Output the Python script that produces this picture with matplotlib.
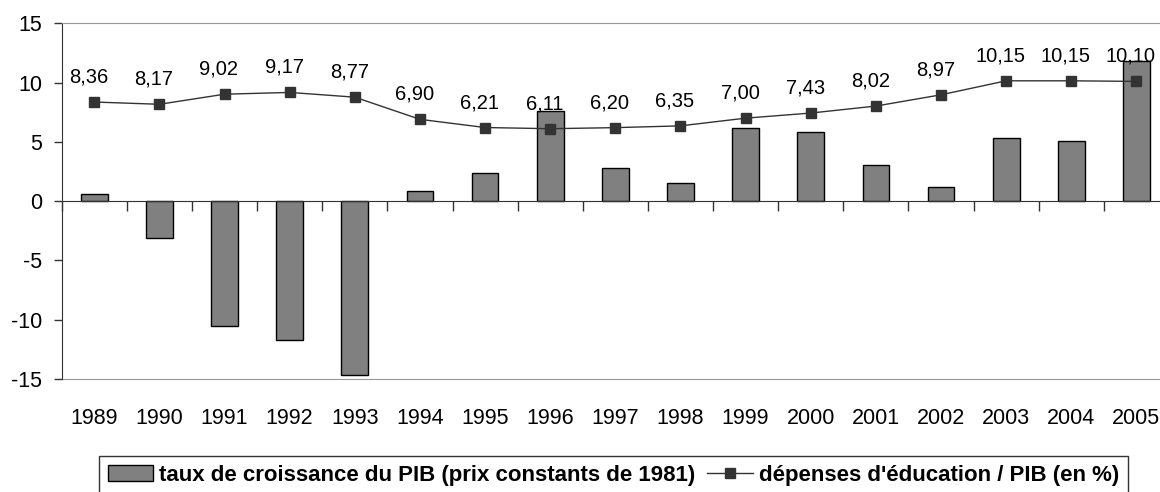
import numpy as np
import matplotlib
matplotlib.use("Agg")
import matplotlib.pyplot as plt
from matplotlib.patches import Patch
from matplotlib.lines import Line2D

plt.rcParams['font.family'] = ['Liberation Sans', 'DejaVu Sans']
plt.rcParams['axes.unicode_minus'] = False

# ---------------------------------------------------------------------------
# DATA
# ---------------------------------------------------------------------------
years = ["1989", "1990", "1991", "1992", "1993", "1994", "1995", "1996", "1997",
         "1998", "1999", "2000", "2001", "2002", "2003", "2004", "2005"]
gdp_growth = [0.62, -3.08, -10.5, -11.74, -14.7, 0.84, 2.36, 7.64, 2.81,
              1.49, 6.15, 5.79, 3.09, 1.21, 5.31, 5.06, 11.85]
educ_share = [8.36, 8.17, 9.02, 9.17, 8.77, 6.90, 6.21, 6.11, 6.20,
              6.35, 7.00, 7.43, 8.02, 8.97, 10.15, 10.15, 10.10]
y_ticks = [-15, -10, -5, 0, 5, 10, 15]

label_bar = "taux de croissance du PIB (prix constants de 1981)"
label_line = "dépenses d'éducation / PIB (en %)"

# ---------------------------------------------------------------------------
# PLOT
# ---------------------------------------------------------------------------
W, H = 1160, 492
fig = plt.figure(figsize=(W / 100, H / 100), dpi=100)
ax = fig.add_axes([61.7 / W, 1 - 379 / H, (1169 - 61.7) / W, (379 - 23.3) / H])

x = np.arange(len(years))
ax.bar(x, gdp_growth, width=0.41, color="#808080", edgecolor="black",
       linewidth=1.0, zorder=2)
ax.plot(x, educ_share, color="#333333", linewidth=1.0, marker="s",
        markersize=7, markerfacecolor="#333333", markeredgecolor="#333333",
        zorder=3)

for xi, v in zip(x, educ_share):
    ax.annotate(f"{v:.2f}".replace(".", ","), (xi, v), xytext=(-4, 14),
                textcoords="offset points", ha="center", va="baseline",
                fontsize=14.5, color="black", zorder=4)

ax.set_xlim(-0.5, len(years) - 0.5)
ax.set_ylim(-15, 15)
ax.set_yticks(y_ticks)
ax.tick_params(axis="y", direction="out", length=6, width=1, colors="#333333",
               labelsize=15.5, labelcolor="black", pad=8)

# x axis line at zero with ticks between categories
ax.spines["bottom"].set_position(("data", 0))
ax.spines["bottom"].set_color("#333333")
ax.set_xticks([])
ax.set_xticks(np.arange(len(years) + 1) - 0.5, minor=True)
ax.tick_params(axis="x", which="minor", direction="out", length=7, width=1,
               colors="#333333")
ax.spines["left"].set_color("#333333")
ax.spines["top"].set_color("#999999")
ax.spines["right"].set_visible(False)

# year labels along the bottom of the plot area
sec = ax.secondary_xaxis(0)
sec.set_xticks(x)
sec.set_xticklabels(years)
sec.tick_params(length=0, labelsize=15.5, pad=21)
sec.spines["bottom"].set_color("#999999")

handles = [Patch(facecolor="#808080", edgecolor="black", linewidth=1.0),
           Line2D([], [], color="#333333", linewidth=1.0, marker="s",
                  markersize=7, markerfacecolor="#333333")]
leg = fig.legend(handles, [label_bar, label_line], loc="upper left",
                 bbox_to_anchor=(99 / W, 1 - 456 / H), ncol=2,
                 prop={"size": 16, "weight": "bold"}, frameon=True,
                 fancybox=False, edgecolor="black", borderaxespad=0,
                 handlelength=2.05, handletextpad=0.25, columnspacing=0.55,
                 borderpad=0.4)
leg.get_frame().set_linewidth(1.0)

fig.savefig("out.png", dpi=100)
